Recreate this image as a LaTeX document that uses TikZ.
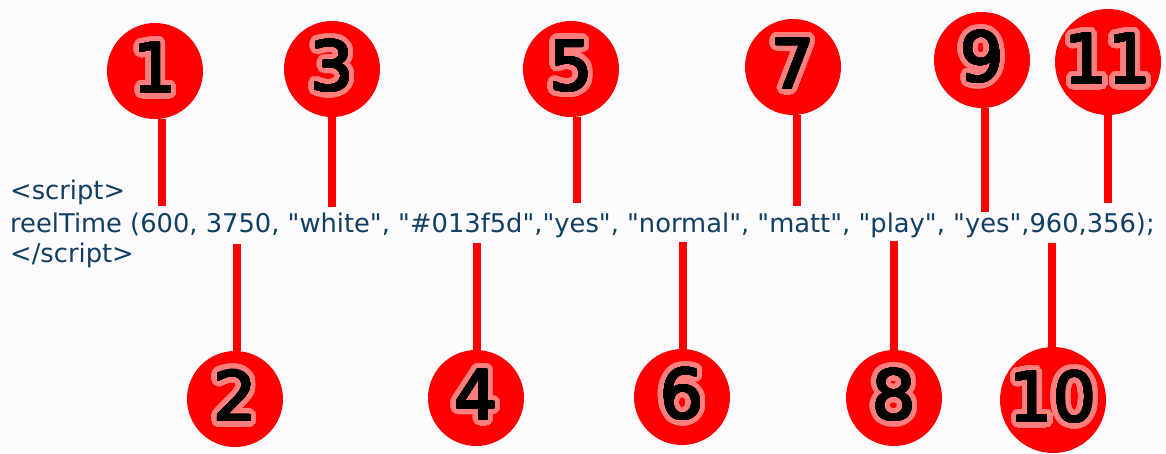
\documentclass[tikz,border=0pt]{standalone}
\usepackage{fontspec}
\usepackage{contour}
\setmainfont[Ligatures=TeXOff]{DejaVu Sans}
\newfontfamily\numfont{DejaVu Sans}

\definecolor{codeblue}{HTML}{0F3F62}
\definecolor{halo}{HTML}{FF7F7F}
\definecolor{paper}{HTML}{FDFBFE}

\contournumber{48}
% black digit, thickened a little, on a pink halo
\newcommand{\halonum}[1]{\contourlength{6.5pt}\rlap{\contour{halo}{#1}}%
  \contourlength{1pt}\contour{black}{#1}}

\tikzset{
  marker/.style={circle,fill=red,minimum size=96pt,inner sep=0pt,
    font=\numfont\fontsize{68}{68}\selectfont},
  bigmarker/.style={marker,minimum size=106pt},
  stem/.style={red,line width=8pt},
  code/.style={anchor=base west,inner sep=0pt,text=codeblue,
    font=\fontsize{25.75}{30}\selectfont}
}

\begin{document}
\begin{tikzpicture}[x=1pt,y=-1pt]
\fill[paper] (0,0) rectangle (1166,450);

% code lines
\node[code] (open) at (10,199) {<script>};
\node[code] (call) at (10,232) {reelTime (600, 3750, "white", "\#013f5d","yes", "normal", "matt", "play", "yes",960,356);};
\node[code] (close) at (10,262) {</script>};

% markers above
\node[marker] (n1) at (155,71) {\halonum{1}};
\node[marker] (n3) at (332,69) {\halonum{3}};
\node[marker] (n5) at (571,69) {\halonum{5}};
\node[marker] (n7) at (793,67) {\halonum{7}};
\node[marker] (n9) at (982,60) {\halonum{9}};
\node[bigmarker] (n11) at (1108,62) {\halonum{11}};

\coordinate (e1) at (162,206);
\coordinate (e3) at (332,207);
\coordinate (e5) at (577,203);
\coordinate (e7) at (797,206);
\coordinate (e9) at (985,212);
\coordinate (e11) at (1108,203);

\draw[stem] (e1) -- (e1 |- n1.south);
\draw[stem] (e3) -- (e3 |- n3.south);
\draw[stem] (e5) -- (e5 |- n5.south);
\draw[stem] (e7) -- (e7 |- n7.south);
\draw[stem] (e9) -- (e9 |- n9.south);
\draw[stem] (e11) -- (e11 |- n11.south);

% markers below
\node[marker] (n2) at (235,399) {\halonum{2}};
\node[marker] (n4) at (476,398) {\halonum{4}};
\node[marker] (n6) at (682,397) {\halonum{6}};
\node[marker] (n8) at (894,398) {\halonum{8}};
\node[bigmarker] (n10) at (1053,400) {\halonum{10}};

\coordinate (e2) at (237,244);
\coordinate (e4) at (477,243);
\coordinate (e6) at (683,242);
\coordinate (e8) at (894,241);
\coordinate (e10) at (1052,243);

\draw[stem] (e2) -- (e2 |- n2.north);
\draw[stem] (e4) -- (e4 |- n4.north);
\draw[stem] (e6) -- (e6 |- n6.north);
\draw[stem] (e8) -- (e8 |- n8.north);
\draw[stem] (e10) -- (e10 |- n10.north);
\end{tikzpicture}
\end{document}
